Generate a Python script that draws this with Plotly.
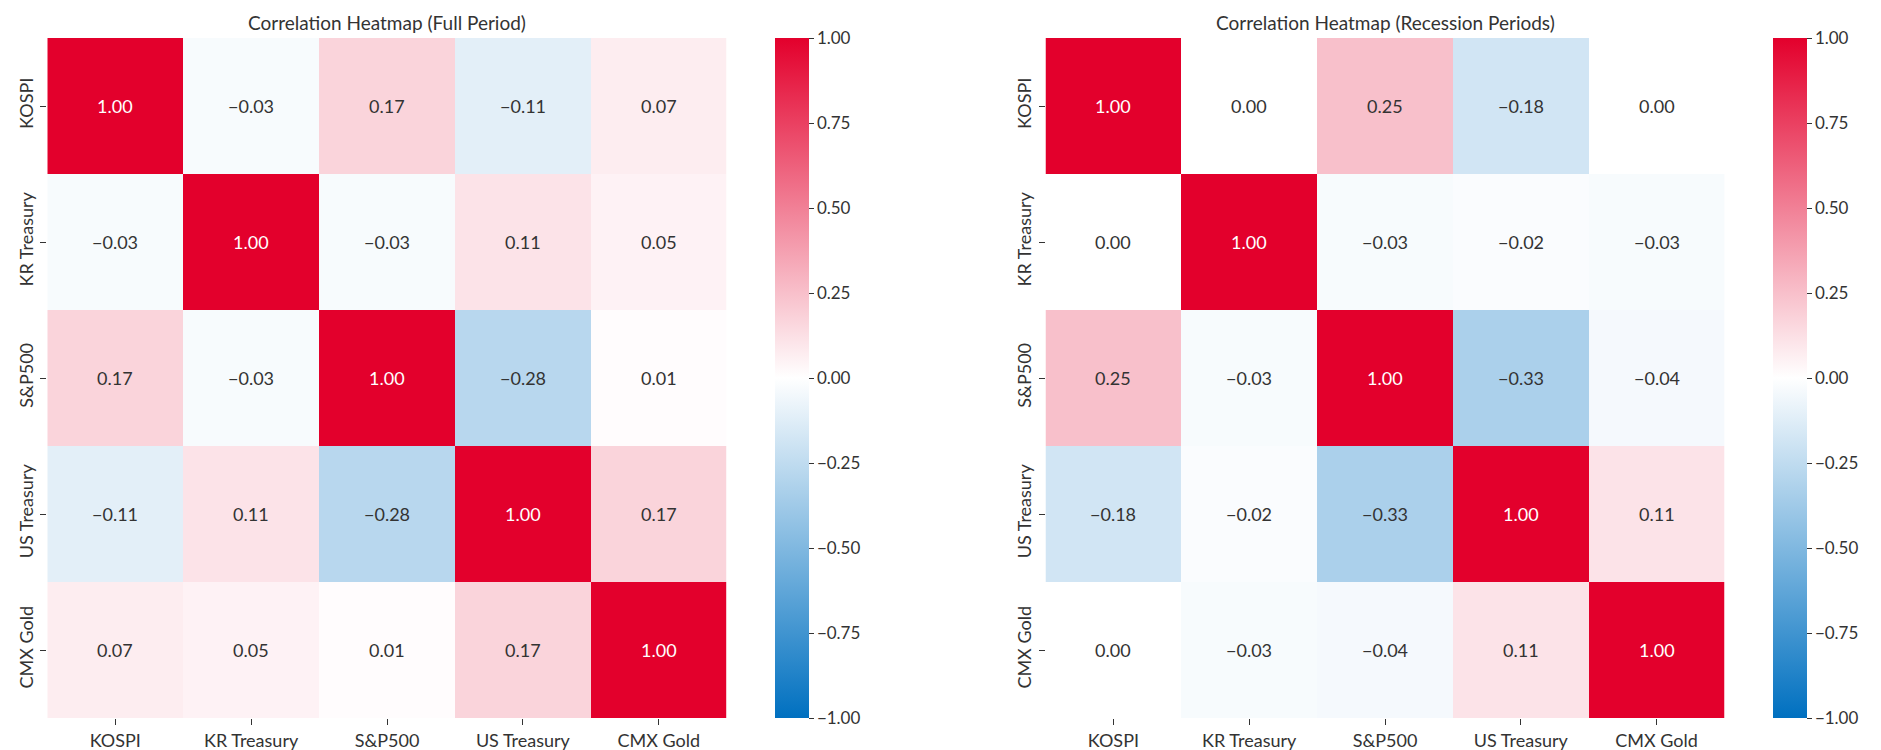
import plotly.graph_objects as go

assets = ["KOSPI", "KR Treasury", "S&P500", "US Treasury", "CMX Gold"]

full_period = [
    [1.00, -0.03, 0.17, -0.11, 0.07],
    [-0.03, 1.00, -0.03, 0.11, 0.05],
    [0.17, -0.03, 1.00, -0.28, 0.01],
    [-0.11, 0.11, -0.28, 1.00, 0.17],
    [0.07, 0.05, 0.01, 0.17, 1.00],
]

recession = [
    [1.00, 0.00, 0.25, -0.18, 0.00],
    [0.00, 1.00, -0.03, -0.02, -0.03],
    [0.25, -0.03, 1.00, -0.33, -0.04],
    [-0.18, -0.02, -0.33, 1.00, 0.11],
    [0.00, -0.03, -0.04, 0.11, 1.00],
]

titles = ["Correlation Heatmap (Full Period)", "Correlation Heatmap (Recession Periods)"]
cb_ticks = [-1.0, -0.75, -0.5, -0.25, 0.0, 0.25, 0.5, 0.75, 1.0]

W, H = 1881, 750
FONT = "Lato"
TXT = "#333333"

colorscale = [
    [0.0, "#0070C0"],
    [0.25, "#80B8E0"],
    [0.5, "#FFFFFF"],
    [0.75, "#F18096"],
    [1.0, "#E3002C"],
]

xdomains = [[47.3 / W, 726.7 / W], [1045.5 / W, 1724.5 / W]]
cbx = [775 / W, 1773 / W]


def fmt(v):
    return ("%.2f" % v).replace("-", "\u2212")


fig = go.Figure()
for i, (z, title) in enumerate(zip([full_period, recession], titles)):
    xa = "x" if i == 0 else "x2"
    ya = "y" if i == 0 else "y2"
    fig.add_trace(go.Heatmap(
        z=z, x=assets, y=assets,
        zmin=-1, zmax=1, colorscale=colorscale,
        xaxis=xa, yaxis=ya,
        showscale=True,
        colorbar=dict(
            x=cbx[i], xanchor="left", xref="paper", xpad=0, ypad=0,
            y=0.5, yanchor="middle", len=1.0, lenmode="fraction",
            thickness=34, thicknessmode="pixels",
            outlinewidth=0,
            tickmode="array", tickvals=cb_ticks,
            ticktext=[fmt(v) for v in cb_ticks],
            ticks="outside", ticklen=5, tickcolor=TXT,
            tickfont=dict(family=FONT, size=17, color=TXT),
        ),
        hoverinfo="skip",
    ))
    for r, row in enumerate(z):
        for c, v in enumerate(row):
            fig.add_annotation(
                x=assets[c], y=assets[r], xref=xa, yref=ya,
                text=fmt(v), showarrow=False,
                font=dict(family=FONT, size=18, color="white" if v > 0.6 else TXT),
            )
    fig.add_annotation(
        x=(xdomains[i][0] + xdomains[i][1]) / 2, y=1, xref="paper", yref="paper",
        xanchor="center", yanchor="middle", yshift=16, text=title, showarrow=False,
        font=dict(family=FONT, size=19, color=TXT),
    )

axis_common = dict(
    showgrid=False, zeroline=False, showline=False,
    ticks="outside", ticklen=6, tickcolor=TXT,
    tickfont=dict(family=FONT, size=18, color=TXT),
    automargin=False,
)

fig.update_layout(
    width=W, height=H,
    margin=dict(l=0, r=0, t=38, b=32),
    paper_bgcolor="white", plot_bgcolor="white",
    xaxis=dict(domain=xdomains[0], anchor="y", **axis_common),
    yaxis=dict(domain=[0, 1], anchor="x", autorange="reversed", tickangle=-90, **axis_common),
    xaxis2=dict(domain=xdomains[1], anchor="y2", **axis_common),
    yaxis2=dict(domain=[0, 1], anchor="x2", autorange="reversed", tickangle=-90, **axis_common),
    showlegend=False,
)

fig.write_html(
    "out.html",
    config={"displayModeBar": False},
    post_script="document.body.style.margin='0';document.body.style.overflow='hidden';",
)
